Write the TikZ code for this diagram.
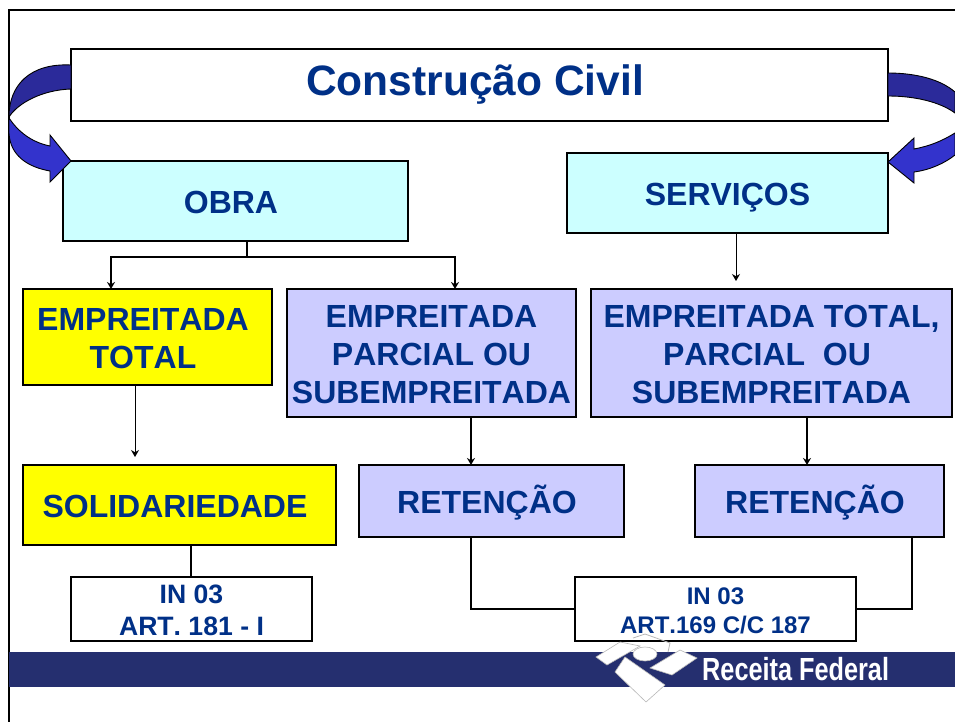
\documentclass[tikz,border=0pt]{standalone}
\usepackage{fontspec}
\setmainfont{Liberation Sans}[Kerning=Off]
\usetikzlibrary{arrows.meta}
\definecolor{txtblue}{HTML}{003087}
\definecolor{bandblue}{HTML}{252F6F}
\definecolor{cyanbox}{HTML}{CCFFFF}
\definecolor{lilacbox}{HTML}{CCCCFF}
\definecolor{yellowbox}{HTML}{FFFF00}
\definecolor{arrowdark}{HTML}{2B2A9A}
\definecolor{arrowlight}{HTML}{3333CC}
\definecolor{logoedge}{HTML}{B8B8B8}
\newcommand{\pushleft}{\rule{9pt}{0pt}}
\tikzset{
  box/.style={draw=black,line width=1.6pt,inner sep=0pt,outer sep=0pt,align=center,text=txtblue,font=\fontsize{32}{38}\selectfont\bfseries},
  oneline/.style={text height=25pt,text depth=0pt},
  smallbox/.style={box,fill=white,font=\fontsize{26.6}{32}\selectfont\bfseries},
  link/.style={draw=black,line width=1.3pt},
  tipline/.style={link,-{Stealth[length=7pt,width=8pt]}},
  curvearrow/.style={draw=black,line width=0.9pt,line join=miter},
  logopiece/.style={fill=white,draw=logoedge,line width=0.6pt}
}
\begin{document}
\begin{tikzpicture}[x=1pt,y=-1pt]
  \useasboundingbox (0,0) rectangle (955,722);
  \fill[white] (0,0) rectangle (955,722);
  % frame and band
  \draw[line width=2.4pt] (9,722) -- (9,10) -- (955,10);
  \fill[bandblue] (9,652) rectangle (955,687);
  % boxes
  \node[box,fill=white,minimum width=817pt,minimum height=72pt,font=\fontsize{42.5}{50}\selectfont\bfseries] (title) at (479.5,85) {Construção Civil\pushleft};
  \node[box,oneline,fill=cyanbox,minimum width=345pt,minimum height=80pt] (obra) at (235.5,201) {OBRA\pushleft};
  \node[box,oneline,fill=cyanbox,minimum width=321pt,minimum height=80pt] (servicos) at (727.5,193) {SERVIÇOS};
  \node[box,fill=yellowbox,minimum width=249pt,minimum height=96pt,text height=63pt,text depth=0pt] (total) at (147.5,337) {EMPREITADA\pushleft\\TOTAL\pushleft};
  \node[box,fill=lilacbox,minimum width=289pt,minimum height=128pt,text height=101pt,text depth=0pt] (parcial) at (431.5,353) {EMPREITADA\\PARCIAL OU\\SUBEMPREITADA};
  \node[box,fill=lilacbox,minimum width=361pt,minimum height=128pt,text height=101pt,text depth=0pt] (todas) at (771.5,353) {EMPREITADA TOTAL,\\PARCIAL\ \ OU\pushleft\\SUBEMPREITADA};
  \node[box,oneline,fill=yellowbox,minimum width=313pt,minimum height=80pt] (solid) at (179.5,505) {SOLIDARIEDADE\pushleft};
  \node[box,oneline,fill=lilacbox,minimum width=265pt,minimum height=72pt] (ret1) at (491.5,501) {RETENÇÃO\pushleft};
  \node[box,oneline,fill=lilacbox,minimum width=249pt,minimum height=72pt] (ret2) at (819.5,501) {RETENÇÃO\pushleft};
  \node[smallbox,minimum width=241pt,minimum height=64pt,text height=52pt,text depth=0pt] (in1) at (191.5,609) {IN 03\\ART. 181 - I};
  \node[smallbox,minimum width=281pt,minimum height=64pt,text height=49pt,text depth=0pt,font=\fontsize{24}{29}\selectfont\bfseries] (in2) at (715.5,609) {IN 03\\ART.169 C/C 187};
  % connectors
  \coordinate (fork) at (247,257);
  \draw[link] (obra.south -| fork) -- (fork);
  \draw[tipline] (fork) -| (total.north -| 111,0);
  \draw[tipline] (fork) -| (parcial.north -| 455,0);
  \draw[tipline,line width=0.8pt,shorten >=8pt] (servicos.south -| 736,0) -- (todas.north -| 736,0);
  \draw[tipline,line width=0.8pt,shorten >=8pt] (total.south -| 135,0) -- (solid.north -| 135,0);
  \draw[tipline] (parcial.south -| 471,0) -- (ret1.north -| 471,0);
  \draw[tipline] (todas.south -| 807,0) -- (ret2.north -| 807,0);
  \draw[link] (solid.south -| 191,0) -- (in1.north -| 191,0);
  \draw[link] (ret1.south -| 471,0) |- (in2.west);
  \draw[link] (ret2.south -| 912,0) |- (in2.east);
  % curved arrows
  \draw[curvearrow,fill=arrowdark] (71,65) .. controls (30,63) and (9,85) .. (9,117) .. controls (18,103) and (42,90) .. (71,89) -- cycle;
  \draw[curvearrow,fill=arrowlight] (9,118) .. controls (17,130) and (30,142) .. (50,146) -- (50,135) -- (71,161) -- (50,182) -- (50,171) .. controls (27,167) and (10,155) .. (9,133) -- cycle;
  \draw[curvearrow,fill=arrowdark] (888,73) .. controls (915,73) and (940,79) .. (955,92) -- (955,113) .. controls (940,102) and (915,96) .. (888,96) -- cycle;
  \draw[curvearrow,fill=arrowlight] (955,133) .. controls (942,141) and (930,146) .. (914,149) -- (914,138) -- (888,162) -- (914,183) -- (914,172) .. controls (930,170) and (945,163) .. (955,155) -- cycle;
  % logo
  \draw[logopiece] (615,672) -- (625,657) -- (665,685) -- (646,702) -- cycle;
  \draw[logopiece] (650,668) -- (680,650) -- (697,658) -- (672,675) -- cycle;
  \draw[logopiece] (596,657) -- (620,642) -- (640,646) -- (607,665) -- cycle;
  \draw[logopiece] (645,654) ellipse (12pt and 7pt);
  \draw[logoedge,line width=0.8pt] (633,638) -- (645,634) -- (670,643) -- (668,652);
  \node[inner sep=0pt,text=white,font=\fontsize{32}{34}\selectfont\bfseries,anchor=base west] (marca) at (702,680) {\scalebox{0.79}[1]{Receita Federal}};
\end{tikzpicture}
\end{document}
